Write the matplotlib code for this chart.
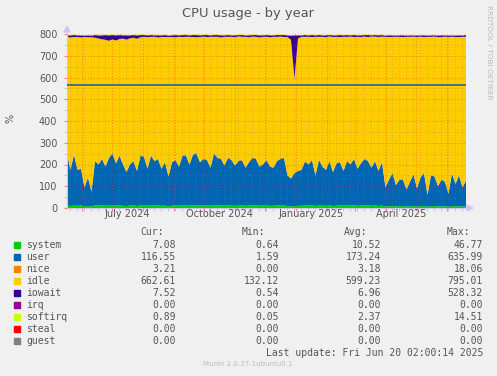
import matplotlib
matplotlib.use('Agg')
import matplotlib.pyplot as plt
import matplotlib.dates as mdates
import pandas as pd

# sample dates, one every 3.5 days (May 17 2024 -> Jun 20 2025)
dates = pd.date_range('2024-05-17', periods=115, freq='84h')

system = [12, 9, 11, 10, 12, 8, 9, 7, 12, 11,
          13, 10, 14, 13, 11, 12, 10, 9, 11, 12,
          9, 13, 12, 10, 13, 11, 12, 10, 11, 8,
          11, 12, 10, 13, 12, 10, 13, 13, 11, 12,
          12, 10, 13, 12, 12, 10, 12, 11, 10, 11,
          12, 10, 11, 12, 12, 10, 11, 12, 10, 10,
          12, 12, 13, 8, 8, 9, 10, 10, 12, 11,
          12, 9, 13, 11, 10, 12, 9, 11, 12, 10,
          12, 11, 13, 10, 11, 13, 12, 10, 12, 9,
          11, 7, 8, 10, 7, 9, 9, 6, 8, 10,
          6, 9, 10, 5, 9, 9, 7, 8, 8, 5,
          10, 7, 9, 6, 7]

user = [238, 166, 234, 165, 168, 87, 131, 68, 203, 189,
        212, 180, 216, 237, 194, 228, 190, 156, 189, 203,
        161, 227, 223, 170, 227, 204, 213, 170, 199, 137,
        199, 208, 180, 227, 228, 190, 232, 237, 199, 213,
        208, 175, 237, 218, 213, 185, 218, 209, 185, 204,
        208, 175, 199, 218, 213, 180, 189, 208, 180, 175,
        203, 213, 217, 142, 127, 151, 160, 165, 201, 189,
        207, 141, 208, 179, 165, 203, 156, 194, 198, 160,
        203, 189, 212, 170, 194, 212, 203, 175, 203, 161,
        199, 88, 122, 150, 98, 121, 121, 79, 112, 145,
        84, 131, 150, 55, 141, 136, 93, 122, 112, 60,
        150, 103, 141, 89, 117]

nice = [3, 3, 4, 3, 3, 2, 3, 2, 4, 3,
        3, 4, 3, 4, 3, 4, 3, 3, 3, 4,
        3, 4, 4, 3, 4, 3, 3, 3, 4, 2,
        3, 4, 3, 4, 4, 3, 4, 4, 3, 4,
        4, 3, 4, 4, 3, 3, 4, 3, 3, 4,
        4, 3, 3, 4, 4, 3, 3, 4, 3, 3,
        4, 4, 4, 3, 2, 3, 3, 3, 4, 3,
        4, 3, 4, 3, 3, 4, 3, 3, 4, 3,
        4, 3, 4, 3, 3, 4, 4, 3, 4, 3,
        4, 2, 3, 3, 2, 3, 3, 2, 3, 3,
        2, 3, 3, 2, 3, 3, 2, 3, 3, 2,
        3, 2, 3, 2, 3]

idle = [533, 606, 537, 608, 601, 689, 642, 708, 564, 576,
        548, 579, 536, 521, 562, 533, 576, 606, 577, 564,
        605, 541, 548, 602, 543, 569, 556, 603, 572, 639,
        573, 561, 594, 542, 543, 584, 537, 531, 573, 559,
        562, 599, 533, 553, 556, 589, 553, 564, 587, 570,
        563, 599, 572, 554, 558, 591, 584, 563, 592, 599,
        568, 559, 552, 633, 636, 431, 606, 609, 570, 584,
        563, 634, 562, 594, 607, 570, 618, 579, 572, 614,
        568, 585, 557, 604, 578, 559, 567, 600, 569, 613,
        574, 690, 653, 624, 680, 654, 653, 700, 664, 630,
        694, 645, 623, 725, 634, 640, 684, 653, 665, 719,
        625, 674, 633, 690, 660]

iowait = [8, 10, 9, 8, 10, 7, 9, 8, 12, 15,
          18, 22, 25, 20, 24, 18, 15, 20, 14, 12,
          16, 10, 8, 9, 8, 7, 10, 8, 9, 7,
          8, 10, 7, 9, 8, 7, 9, 10, 8, 7,
          9, 7, 8, 8, 10, 7, 8, 7, 9, 6,
          8, 7, 9, 7, 8, 10, 7, 8, 9, 7,
          8, 7, 9, 8, 20, 200, 15, 7, 8, 7,
          9, 7, 8, 7, 9, 6, 8, 7, 9, 7,
          8, 6, 9, 7, 8, 7, 9, 6, 7, 8,
          7, 6, 8, 7, 6, 7, 8, 6, 7, 6,
          7, 6, 8, 6, 7, 6, 7, 8, 6, 7,
          6, 7, 8, 6, 8]

softirq = [3, 2, 3, 2, 2, 2, 2, 1, 3, 3,
           3, 2, 3, 3, 2, 3, 2, 2, 2, 3,
           2, 3, 3, 2, 3, 3, 3, 2, 3, 2,
           3, 3, 2, 3, 3, 2, 3, 3, 3, 3,
           3, 2, 3, 3, 3, 2, 3, 3, 2, 3,
           3, 2, 3, 3, 3, 2, 2, 3, 2, 2,
           3, 3, 3, 2, 2, 2, 2, 2, 3, 2,
           3, 2, 3, 2, 2, 3, 2, 3, 3, 2,
           3, 2, 3, 2, 3, 3, 3, 2, 3, 2,
           3, 1, 2, 2, 1, 2, 2, 1, 2, 2,
           1, 2, 2, 1, 2, 2, 1, 2, 2, 1,
           2, 1, 2, 1, 1]

hrule_value = 565

# legend table
names = ['system', 'user', 'nice', 'idle', 'iowait', 'irq', 'softirq', 'steal', 'guest']
colors = ['#00CC00', '#0066B3', '#FF8000', '#FFCC00', '#330099', '#990099', '#CCFF00', '#FF0000', '#808080']
cur = ['7.08', '116.55', '3.21', '662.61', '7.52', '0.00', '0.89', '0.00', '0.00']
vmin = ['0.64', '1.59', '0.00', '132.12', '0.54', '0.00', '0.05', '0.00', '0.00']
avg = ['10.52', '173.24', '3.18', '599.23', '6.96', '0.00', '2.37', '0.00', '0.00']
vmax = ['46.77', '635.99', '18.06', '795.01', '528.32', '0.00', '14.51', '0.00', '0.00']

month_labels = ['July 2024', 'October 2024', 'January 2025', 'April 2025']
month_label_dates = pd.to_datetime(['2024-07-16', '2024-10-16', '2025-01-16', '2025-04-16'])

bg = '#F0F0F0'
txt = '#555555'
W, H = 497, 376

fig = plt.figure(figsize=(W / 100, H / 100), dpi=100, facecolor=bg)
ax = fig.add_axes([67 / W, 1 - 208 / H, (466 - 67) / W, (208 - 34) / H])
ax.set_facecolor('white')

ax.stackplot(dates, system, user, nice, idle, iowait, softirq,
             colors=['#00CC00', '#0066B3', '#FF8000', '#FFCC00', '#330099', '#CCFF00'],
             linewidth=0, zorder=1)
ax.axhline(hrule_value, color='#0B5FA8', lw=1.1, zorder=3)

ax.set_xlim(dates[0], dates[-1])
ax.set_ylim(0, 800)

# grid, drawn on top of the areas like rrdtool does
ax.xaxis.set_major_locator(mdates.MonthLocator())
ax.xaxis.set_minor_locator(mdates.WeekdayLocator(byweekday=mdates.MO))
ax.xaxis.set_major_formatter(plt.NullFormatter())
ax.set_yticks(range(0, 801, 100))
ax.set_yticks(range(50, 800, 100), minor=True)
ax.grid(which='major', color='#FF0000', alpha=0.35, lw=0.7, ls=(0, (1, 2)), zorder=4)
ax.grid(which='minor', color='#808080', alpha=0.35, lw=0.7, ls=(0, (1, 2)), zorder=4)
ax.set_axisbelow(False)

ax.tick_params(axis='both', which='major', length=2, color='#FF8080', labelsize=7, labelcolor=txt)
ax.tick_params(axis='both', which='minor', length=2, color='#c0c0c0')
ax.tick_params(axis='y', pad=5)

for d, lab in zip(month_label_dates, month_labels):
    ax.text(d, -5, lab, ha='center', va='top', fontsize=7, color=txt)

for s in ['top', 'right']:
    ax.spines[s].set_visible(False)
for s in ['left', 'bottom']:
    ax.spines[s].set_color('#C8C8E8')
    ax.spines[s].set_linewidth(0.8)

# axis arrows
fig.patches.append(plt.Polygon([[64 / W, 1 - 32 / H], [70 / W, 1 - 32 / H], [67 / W, 1 - 26 / H]],
                               closed=True, transform=fig.transFigure, color='#C8C8F0'))
fig.patches.append(plt.Polygon([[467 / W, 1 - 205 / H], [467 / W, 1 - 211 / H], [473 / W, 1 - 208 / H]],
                               closed=True, transform=fig.transFigure, color='#C8C8F0'))

fig.text(248 / W, 1 - 13 / H, 'CPU usage - by year', ha='center', va='center', fontsize=9.4, color=txt)
fig.text(11 / W, 1 - 118 / H, '%', ha='center', va='center', rotation=90, fontsize=7, color=txt)
fig.text(489 / W, 1 - 5 / H, 'RRDTOOL / TOBI OETIKER', ha='center', va='top', rotation=270,
         fontsize=5.3, color='#BBBBBB')

mono = 'DejaVu Sans Mono'
fs = 7
y0 = 232
fig.text(140 / W, 1 - y0 / H, 'Cur:', ha='left', va='center', family=mono, fontsize=fs, color=txt)
fig.text(242 / W, 1 - y0 / H, 'Min:', ha='left', va='center', family=mono, fontsize=fs, color=txt)
fig.text(344 / W, 1 - y0 / H, 'Avg:', ha='left', va='center', family=mono, fontsize=fs, color=txt)
fig.text(447 / W, 1 - y0 / H, 'Max:', ha='left', va='center', family=mono, fontsize=fs, color=txt)

for i, name in enumerate(names):
    y = 1 - (245 + 12 * i) / H
    fig.patches.append(plt.Rectangle((14 / W, y - 3 / H), 6 / W, 6 / H, transform=fig.transFigure,
                                     color=colors[i]))
    fig.text(26.5 / W, y, name, ha='left', va='center', family=mono, fontsize=fs, color=txt)
    fig.text(176 / W, y, cur[i], ha='right', va='center', family=mono, fontsize=fs, color=txt)
    fig.text(279 / W, y, vmin[i], ha='right', va='center', family=mono, fontsize=fs, color=txt)
    fig.text(381 / W, y, avg[i], ha='right', va='center', family=mono, fontsize=fs, color=txt)
    fig.text(483 / W, y, vmax[i], ha='right', va='center', family=mono, fontsize=fs, color=txt)

fig.text(483 / W, 1 - 353 / H, 'Last update: Fri Jun 20 02:00:14 2025', ha='right', va='center',
         family=mono, fontsize=fs, color=txt)
fig.text(248 / W, 1 - 364.5 / H, 'Munin 2.0.37-1ubuntu0.1', ha='center', va='center',
         fontsize=5, color='#BBBBBB')

fig.savefig('out.png', dpi=100, facecolor=bg)
